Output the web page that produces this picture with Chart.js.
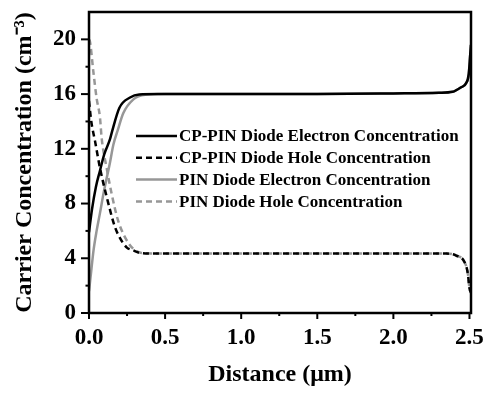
<!DOCTYPE html>
<html>
<head>
<meta charset="utf-8">
<script src="https://cdn.jsdelivr.net/npm/chart.js@4.4.0/dist/chart.umd.min.js"></script>
<style>
  html, body { margin: 0; padding: 0; background: #fff; }
</style>
</head>
<body>
<canvas id="chart" width="485" height="393"></canvas>
<script>
// values (distance in um, concentration in cm^-3, log scale units)
const cpElecX = [0, 0.02, 0.045, 0.072, 0.1, 0.138, 0.15, 0.2, 0.27, 0.33, 0.45, 1.0, 1.5, 2.0, 2.3, 2.39, 2.445, 2.478, 2.495, 2.505, 2.51];
const cpElecY = [5.9, 7.6, 9.2, 10.4, 11.6, 12.7, 13.2, 15.0, 15.75, 15.97, 16.0, 16.0, 16.0, 16.05, 16.1, 16.17, 16.5, 16.8, 17.45, 18.9, 19.6];

const cpHoleX = [0, 0.015, 0.039, 0.072, 0.116, 0.17, 0.2, 0.247, 0.29, 0.335, 0.4, 1.0, 1.5, 2.0, 2.35, 2.413, 2.467, 2.489, 2.5, 2.51];
const cpHoleY = [15.5, 14.0, 12.6, 10.6, 8.5, 6.3, 5.55, 4.8, 4.58, 4.39, 4.35, 4.35, 4.35, 4.35, 4.34, 4.2, 3.73, 2.9, 1.8, 1.5];

const pinElecX = [0, 0.01, 0.03, 0.05, 0.072, 0.1, 0.138, 0.16, 0.19, 0.225, 0.29, 0.37, 0.5, 1.0, 1.5, 2.0, 2.3, 2.39, 2.445, 2.478, 2.495, 2.505, 2.51];
const pinElecY = [1.6, 2.6, 4.6, 6.0, 7.3, 9.0, 11.0, 12.3, 13.4, 14.6, 15.6, 15.95, 16.0, 16.0, 16.0, 16.05, 16.1, 16.17, 16.5, 16.8, 17.45, 18.9, 19.6];

const pinHoleX = [0, 0.007, 0.028, 0.05, 0.072, 0.083, 0.116, 0.149, 0.19, 0.236, 0.29, 0.345, 0.42, 1.0, 1.5, 2.0, 2.35, 2.413, 2.467, 2.489, 2.5, 2.51];
const pinHoleY = [20.0, 19.8, 17.7, 15.7, 14.3, 12.8, 10.6, 8.7, 6.8, 5.55, 4.7, 4.39, 4.35, 4.35, 4.35, 4.35, 4.34, 4.2, 3.73, 2.9, 1.8, 1.45];

const seriesNames = [
  'CP-PIN Diode Electron Concentration',
  'CP-PIN Diode Hole Concentration',
  'PIN Diode Electron Concentration',
  'PIN Diode Hole Concentration'
];

const xTickStep = 0.25;   // labelled every 0.5
const yTickStep = 2;      // labelled every 4

const FONT = '"Liberation Serif", "Times New Roman", serif';
const GRAY = '#979797';

const toPoints = (xs, ys) => xs.map((x, i) => ({x: x, y: ys[i]}));

const onStep = (v, step) => Math.abs(v / step - Math.round(v / step)) < 1e-6;

// frame, tick marks and legend
const decorPlugin = {
  id: 'decor',
  afterDatasetsDraw(chart) {
    const {ctx, chartArea: a, scales} = chart;
    ctx.save();
    ctx.strokeStyle = '#000';
    ctx.lineWidth = 2;
    scales.x.ticks.forEach(t => {
      const px = scales.x.getPixelForValue(t.value);
      const len = onStep(t.value, 0.5) ? 6 : 3;
      ctx.beginPath();
      ctx.moveTo(px, a.bottom);
      ctx.lineTo(px, a.bottom + len);
      ctx.stroke();
    });
    scales.y.ticks.forEach(t => {
      if (t.value > 20) return;
      const py = scales.y.getPixelForValue(t.value);
      const len = onStep(t.value, 4) ? 8 : 3.5;
      ctx.beginPath();
      ctx.moveTo(a.left, py);
      ctx.lineTo(a.left - len, py);
      ctx.stroke();
    });
    ctx.lineWidth = 2.5;
    ctx.strokeRect(a.left, a.top, a.right - a.left, a.bottom - a.top);

    // legend
    const lx0 = 136, lx1 = 177, ly0 = 136, dy = 21.8;
    ctx.font = 'bold 17px ' + FONT;
    ctx.textBaseline = 'middle';
    ctx.textAlign = 'left';
    chart.data.datasets.forEach((ds, i) => {
      const y = ly0 + i * dy;
      ctx.strokeStyle = ds.borderColor;
      ctx.lineWidth = ds.borderWidth;
      ctx.setLineDash(ds.borderDash || []);
      ctx.beginPath();
      ctx.moveTo(lx0, y);
      ctx.lineTo(lx1, y);
      ctx.stroke();
      ctx.setLineDash([]);
      ctx.fillStyle = '#000';
      ctx.fillText(ds.label, lx1 + 2, y + 1);
    });
    ctx.restore();
  }
};

const makeSet = (label, xs, ys, color, dash) => ({
  label: label,
  data: toPoints(xs, ys),
  borderColor: color,
  borderWidth: 2.5,
  borderDash: dash,
  pointRadius: 0,
  fill: false,
  cubicInterpolationMode: 'monotone'
});

const ctx = document.getElementById('chart').getContext('2d');
new Chart(ctx, {
  type: 'line',
  data: {
    datasets: [
      makeSet(seriesNames[0], cpElecX, cpElecY, '#000', []),
      makeSet(seriesNames[1], cpHoleX, cpHoleY, '#000', [6, 4]),
      makeSet(seriesNames[2], pinElecX, pinElecY, GRAY, []),
      makeSet(seriesNames[3], pinHoleX, pinHoleY, GRAY, [6, 4])
    ]
  },
  options: {
    responsive: false,
    animation: false,
    layout: {padding: {top: 12, right: 14, left: 0, bottom: 0}},
    plugins: {legend: {display: false}, tooltip: {enabled: false}},
    scales: {
      x: {
        type: 'linear',
        min: 0,
        max: 2.51,
        border: {display: false},
        grid: {display: false, drawTicks: false},
        ticks: {
          stepSize: xTickStep,
          includeBounds: false,
          autoSkip: false,
          maxRotation: 0,
          padding: 11,
          color: '#000',
          font: {family: FONT, size: 23, weight: 'bold'},
          callback: v => onStep(v, 0.5) ? v.toFixed(1) : ''
        },
        title: {
          display: true,
          text: 'Distance (\u03bcm)',
          color: '#000',
          padding: {top: 0, bottom: 4},
          font: {family: FONT, size: 24, weight: 'bold'}
        },
        afterFit: s => { s.height = 80; s.paddingLeft = 0; s.paddingRight = 0; }
      },
      y: {
        min: 0,
        max: 22,
        border: {display: false},
        grid: {display: false, drawTicks: false},
        ticks: {
          stepSize: yTickStep,
          autoSkip: false,
          padding: 13,
          color: '#000',
          font: {family: FONT, size: 23, weight: 'bold'},
          callback: v => (onStep(v, 4) && v <= 20) ? String(v) : ''
        },
        title: {
          display: true,
          text: 'Carrier Concentration (cm\u207b\u00b3)',
          color: '#000',
          padding: {top: 10, bottom: 0},
          font: {family: FONT, size: 24, weight: 'bold'}
        },
        afterFit: s => { s.width = 89; s.paddingTop = 0; s.paddingBottom = 0; }
      }
    }
  },
  plugins: [decorPlugin]
});
</script>
</body>
</html>
